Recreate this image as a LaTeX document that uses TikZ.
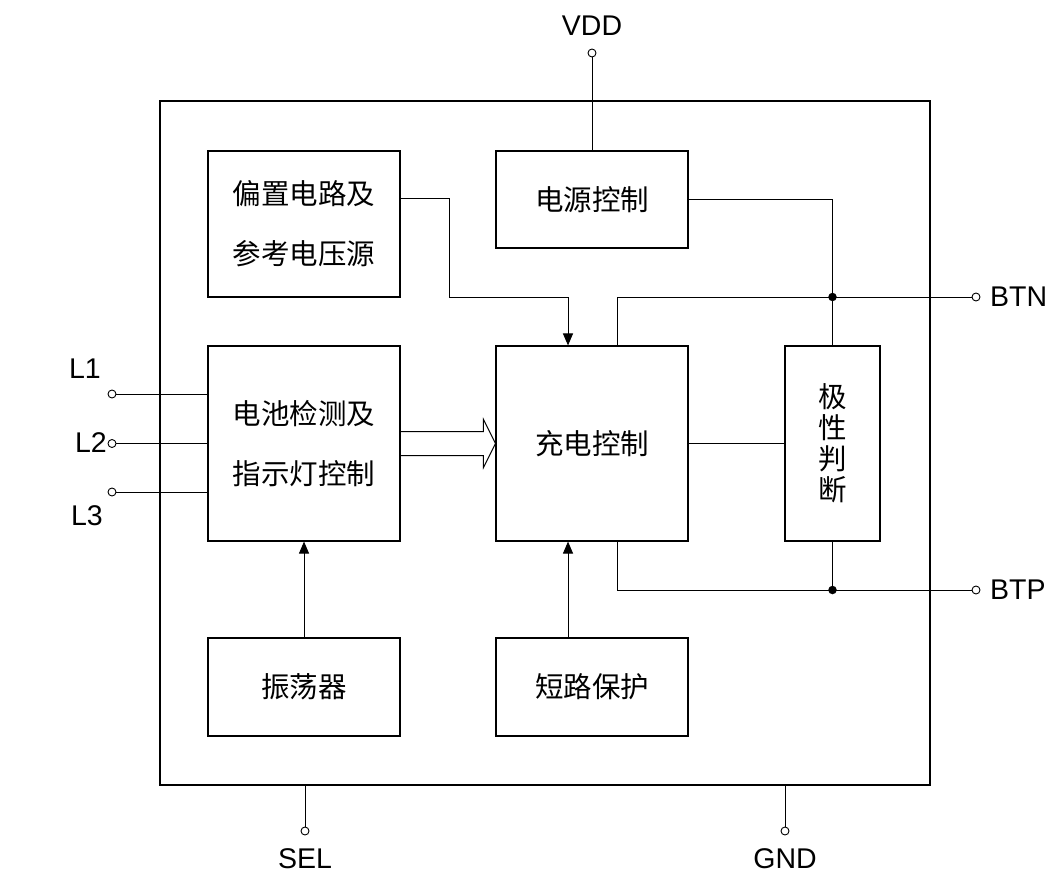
\documentclass[tikz,border=0pt]{standalone}
\usepackage{fontspec}
\setmainfont{Liberation Sans}
\newfontfamily\cjk{Noto Sans CJK SC}
\usetikzlibrary{arrows.meta,calc}
\begin{document}
\begin{tikzpicture}[x=1pt,y=-1pt,
  blk/.style={draw,line width=1.1pt,inner sep=0pt,align=center,font=\cjk\fontsize{28.5}{60}\selectfont},
  frm/.style={draw,line width=2pt,inner sep=0pt},
  wire/.style={line width=1pt},
  arr/.style={wire,-{Triangle[length=12pt,width=10pt]}},
  pinc/.style={circle,draw,fill=white,line width=0.9pt,inner sep=0pt,minimum size=8pt},
  lbl/.style={font=\fontsize{28.5}{28.5}\selectfont,inner sep=0pt},
  dot/.style={circle,fill,inner sep=0pt,minimum size=8.5pt}]
\useasboundingbox (0,0) rectangle (1053,876);
\node[frm,minimum width=770pt,minimum height=684pt] (chip) at (545,443) {};
\node[blk,minimum width=192pt,minimum height=146pt] (bias) at (304,224) {偏置电路及\\参考电压源};
\node[blk,minimum width=192pt,minimum height=97pt] (power) at (592,199.5) {电源控制};
\node[blk,minimum width=192pt,minimum height=195pt] (batt) at (304,443.5) {电池检测及\\指示灯控制};
\node[blk,minimum width=192pt,minimum height=195pt] (chg) at (592,443.5) {充电控制};
\node[blk,minimum width=95pt,minimum height=195pt,font=\cjk\fontsize{28.5}{31}\selectfont] (pol) at (832.5,443.5) {极\\性\\判\\断};
\node[blk,minimum width=192pt,minimum height=98pt] (osc) at (304,687) {振荡器};
\node[blk,minimum width=192pt,minimum height=98pt] (sc) at (592,687) {短路保护};
% pins
\node[pinc] (vdd) at (592,53) {};
\node[pinc] (btn) at (976,297) {};
\node[pinc] (btp) at (976,590) {};
\node[pinc] (l1) at (112,394) {};
\node[pinc] (l2) at (112,443.5) {};
\node[pinc] (l3) at (112,492) {};
\node[pinc] (sel) at (305,831) {};
\node[pinc] (gnd) at (785,831) {};
\node[lbl] (vddt) at (592,26) {VDD};
\node[lbl,anchor=west] (btnt) at (990,297) {BTN};
\node[lbl,anchor=west] (btpt) at (990,590) {BTP};
\node[lbl] (l1t) at (85,369) {L1};
\node[lbl,anchor=east] (l2t) at (107,443) {L2};
\node[lbl] (l3t) at (87,516) {L3};
\node[lbl] (selt) at (305,859) {SEL};
\node[lbl] (gndt) at (785,859) {GND};
% wires
\draw[wire] (power.north) -- (vdd.south);
\draw[wire] (sel.north) -- (sel |- chip.south);
\draw[wire] (gnd.north) -- (gnd |- chip.south);
\draw[wire] (l1.east) -- (l1 -| batt.west);
\draw[wire] (l2.east) -- (l2 -| batt.west);
\draw[wire] (l3.east) -- (l3 -| batt.west);
\draw[wire] ($(chg.north)+(25,0)$) |- (btn.west);
\draw[wire] (power.east) -| (pol.north);
\node[dot] (d1) at (pol.north |- btn) {};
\draw[wire] (chg.east) -- (pol.west);
\draw[wire] ($(chg.south)+(25,0)$) |- (btp.west);
\draw[wire] (pol.south) -- (pol.south |- btp);
\node[dot] (d2) at (pol.south |- btp) {};
\draw[arr] ($(bias.north east)+(0,48)$) -| (449,297) -| ($(chg.north)+(-24,0)$);
\draw[arr] (osc.north) -- (batt.south);
\draw[arr] ($(sc.north)+(-24,0)$) -- ($(chg.south)+(-24,0)$);
\draw[wire,line join=miter] ($(batt.east)+(0,-12)$) -- ($(chg.west)+(-12,-12)$) -- ($(chg.west)+(-12,-24)$) -- (chg.west) -- ($(chg.west)+(-12,24)$) -- ($(chg.west)+(-12,12)$) -- ($(batt.east)+(0,12)$);
\end{tikzpicture}
\end{document}
